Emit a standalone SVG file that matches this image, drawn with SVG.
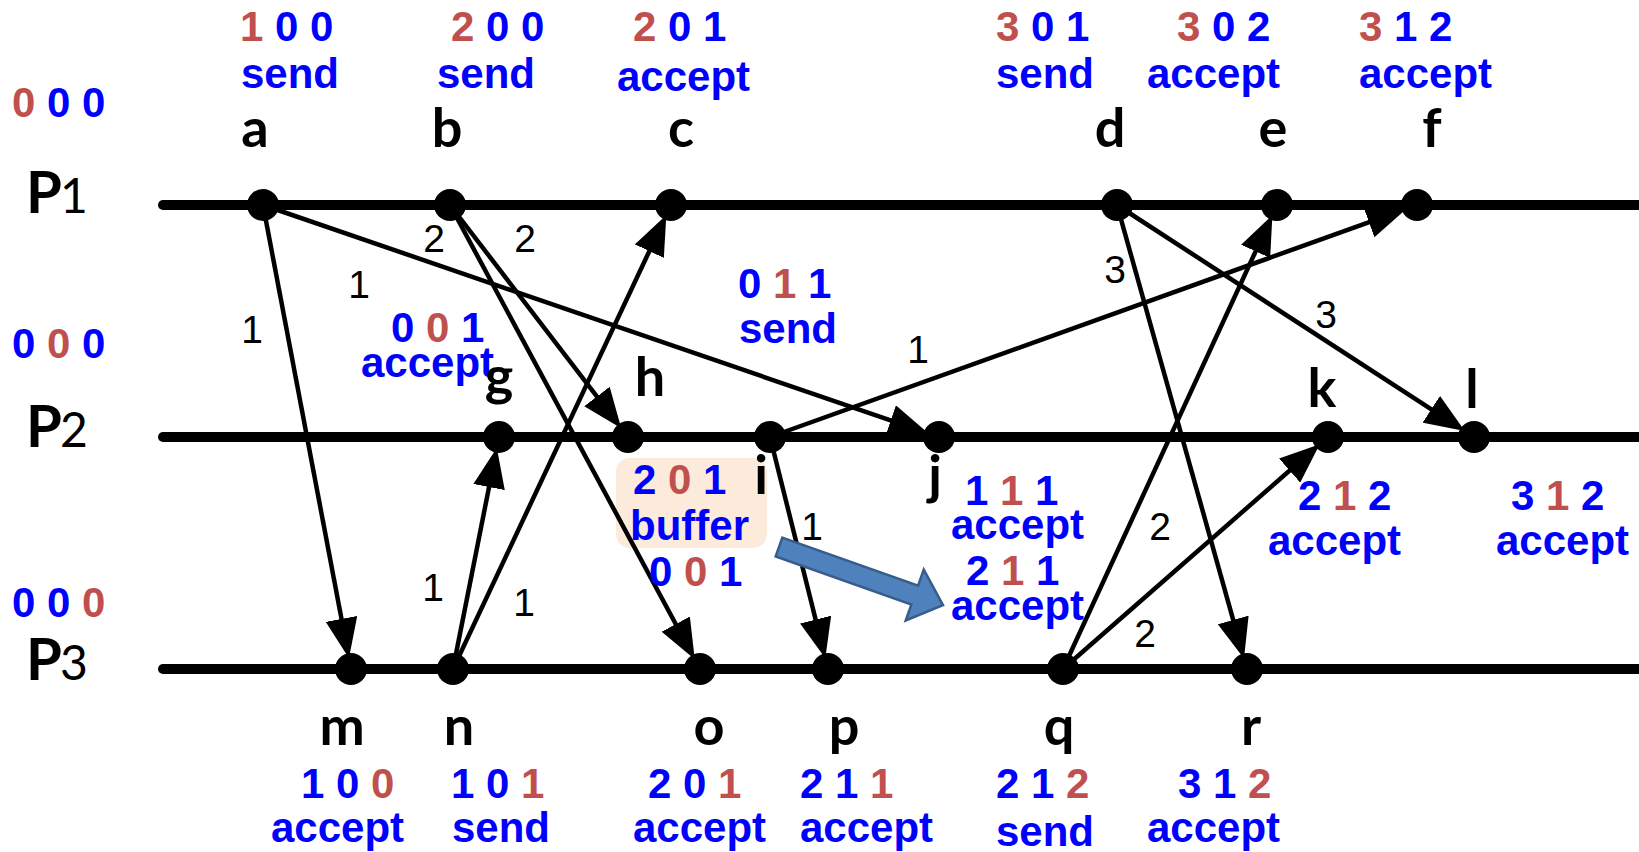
<svg xmlns="http://www.w3.org/2000/svg" width="1639" height="852" viewBox="0 0 1639 852">
<style>
.v{font-family:"Liberation Sans",Arial,sans-serif;font-weight:bold;font-size:42px;fill:#0000FF}
.r{fill:#C0504D}
.n{font-family:Lato,"Liberation Sans",sans-serif;font-weight:bold;font-size:54px;fill:#000;text-anchor:middle}
.e{font-family:"Liberation Sans",Arial,sans-serif;font-size:39px;fill:#000;text-anchor:middle}
.p{font-family:Lato,"Liberation Sans",sans-serif;font-weight:bold;font-size:58px;fill:#000}
.ps{font-weight:normal;font-size:48px}
.tl{stroke:#000;stroke-width:10;stroke-linecap:round;fill:none}
.c{stroke:#000;stroke-width:4.5;fill:none;marker-end:url(#ah)}
.dot{fill:#000}
</style>
<defs>
<marker id="ah" markerUnits="userSpaceOnUse" viewBox="0 -16 40 32" refX="30" refY="0" markerWidth="40" markerHeight="32" orient="auto">
<path d="M0,-16 L40,0 L0,16 z" fill="#000"/>
</marker>
</defs>
<rect width="1639" height="852" fill="#fff"/>

<g id="P1">
<line class="tl" x1="163" y1="205" x2="1645" y2="205"/>
<text class="p" x="26" y="213">P<tspan class="ps" x="60">1</tspan></text>
<text class="v" x="12" y="117"><tspan class="r">0</tspan> 0 0</text>
</g>
<g id="P2">
<line class="tl" x1="163" y1="437" x2="1645" y2="437"/>
<text class="p" x="26" y="447">P<tspan class="ps" x="60">2</tspan></text>
<text class="v" x="12" y="358">0 <tspan class="r">0</tspan> 0</text>
</g>
<g id="P3">
<line class="tl" x1="163" y1="669" x2="1645" y2="669"/>
<text class="p" x="26" y="680">P<tspan class="ps" x="60">3</tspan></text>
<text class="v" x="12" y="617">0 0 <tspan class="r">0</tspan></text>
</g>

<g id="buffer">
<rect x="616" y="458" width="151" height="90" rx="14" fill="#FCEADB"/>
</g>

<g id="connectors">
<line class="c" x1="263" y1="205" x2="347.1" y2="648.4"/>
<line class="c" x1="263" y1="205" x2="919.1" y2="430.2"/>
<line class="c" x1="450" y1="205" x2="615.2" y2="420.3"/>
<line class="c" x1="450" y1="205" x2="690" y2="650.5"/>
<line class="c" x1="453" y1="669" x2="494.9" y2="457.6"/>
<line class="c" x1="453" y1="669" x2="662.1" y2="224"/>
<line class="c" x1="770" y1="437" x2="1397.2" y2="212.1"/>
<line class="c" x1="770" y1="437" x2="822.9" y2="648.6"/>
<line class="c" x1="1117" y1="205" x2="1241.3" y2="648.8"/>
<line class="c" x1="1117" y1="205" x2="1456.4" y2="425.6"/>
<line class="c" x1="1063" y1="669" x2="1268.2" y2="224.1"/>
<line class="c" x1="1063" y1="669" x2="1312.2" y2="450.8"/>
<g id="edge-labels">
<text class="e" x="252" y="343">1</text>
<text class="e" x="359" y="298">1</text>
<text class="e" x="434" y="252">2</text>
<text class="e" x="525" y="252">2</text>
<text class="e" x="433" y="601">1</text>
<text class="e" x="524" y="616">1</text>
<text class="e" x="918" y="363">1</text>
<text class="e" x="812" y="540">1</text>
<text class="e" x="1115" y="283">3</text>
<text class="e" x="1326" y="328">3</text>
<text class="e" x="1160" y="540">2</text>
<text class="e" x="1145" y="647">2</text>
</g>
<polygon id="buffer-arrow" transform="translate(779,547) rotate(19.5)" points="0,-10 144,-10 144,-27 174,0 144,27 144,10 0,10" fill="#4F81BD" stroke="#385D8A" stroke-width="2.5" stroke-linejoin="miter"/>
</g>

<g id="node-a"><circle class="dot" cx="263" cy="205" r="16"/><text class="n" x="255" y="147">a</text>
<text class="v" x="240" y="41"><tspan class="r">1</tspan> 0 0</text><text class="v" x="241" y="88">send</text></g>
<g id="node-b"><circle class="dot" cx="450" cy="205" r="16"/><text class="n" x="447" y="147">b</text>
<text class="v" x="451" y="41"><tspan class="r">2</tspan> 0 0</text><text class="v" x="437" y="88">send</text></g>
<g id="node-c"><circle class="dot" cx="671" cy="205" r="16"/><text class="n" x="681" y="147">c</text>
<text class="v" x="633" y="41"><tspan class="r">2</tspan> 0 1</text><text class="v" x="617" y="91">accept</text></g>
<g id="node-d"><circle class="dot" cx="1117" cy="205" r="16"/><text class="n" x="1110" y="147">d</text>
<text class="v" x="996" y="41"><tspan class="r">3</tspan> 0 1</text><text class="v" x="996" y="88">send</text></g>
<g id="node-e"><circle class="dot" cx="1277" cy="205" r="16"/><text class="n" x="1273" y="147">e</text>
<text class="v" x="1177" y="41"><tspan class="r">3</tspan> 0 2</text><text class="v" x="1147" y="88">accept</text></g>
<g id="node-f"><circle class="dot" cx="1417" cy="205" r="16"/><text class="n" x="1432" y="147">f</text>
<text class="v" x="1359" y="41"><tspan class="r">3</tspan> 1 2</text><text class="v" x="1359" y="88">accept</text></g>

<g id="node-g"><circle class="dot" cx="499" cy="437" r="16"/>
<text class="v" x="391" y="342">0 <tspan class="r">0</tspan> 1</text><text class="v" x="361" y="377">accept</text>
<text class="n" x="499" y="395">g</text></g>
<g id="node-h"><circle class="dot" cx="628" cy="437" r="16"/><text class="n" x="650" y="396">h</text>
<text class="v" x="633" y="494">2 <tspan class="r">0</tspan> 1</text><text class="v" x="630" y="540">buffer</text>
<text class="v" x="649" y="586">0 <tspan class="r">0</tspan> 1</text></g>
<g id="node-i"><circle class="dot" cx="770" cy="437" r="16"/><text class="n" x="761" y="494">i</text>
<text class="v" x="738" y="298">0 <tspan class="r">1</tspan> 1</text><text class="v" x="739" y="343">send</text></g>
<g id="node-j"><circle class="dot" cx="939" cy="437" r="16"/><text class="n" x="935" y="494">j</text>
<text class="v" x="965" y="505">1 <tspan class="r">1</tspan> 1</text><text class="v" x="951" y="539">accept</text>
<text class="v" x="966" y="585">2 <tspan class="r">1</tspan> 1</text><text class="v" x="951" y="620">accept</text></g>
<g id="node-k"><circle class="dot" cx="1328" cy="437" r="16"/><text class="n" x="1322" y="407">k</text>
<text class="v" x="1298" y="510">2 <tspan class="r">1</tspan> 2</text><text class="v" x="1268" y="555">accept</text></g>
<g id="node-l"><circle class="dot" cx="1474" cy="437" r="16"/><text class="n" x="1472" y="408">l</text>
<text class="v" x="1511" y="510">3 <tspan class="r">1</tspan> 2</text><text class="v" x="1496" y="555">accept</text></g>

<g id="node-m"><circle class="dot" cx="351" cy="669" r="16"/><text class="n" x="342" y="745">m</text>
<text class="v" x="301" y="798">1 0 <tspan class="r">0</tspan></text><text class="v" x="271" y="842">accept</text></g>
<g id="node-n"><circle class="dot" cx="453" cy="669" r="16"/><text class="n" x="459" y="745">n</text>
<text class="v" x="451" y="798">1 0 <tspan class="r">1</tspan></text><text class="v" x="452" y="842">send</text></g>
<g id="node-o"><circle class="dot" cx="700" cy="669" r="16"/><text class="n" x="709" y="745">o</text>
<text class="v" x="648" y="798">2 0 <tspan class="r">1</tspan></text><text class="v" x="633" y="842">accept</text></g>
<g id="node-p"><circle class="dot" cx="828" cy="669" r="16"/><text class="n" x="844" y="745">p</text>
<text class="v" x="800" y="798">2 1 <tspan class="r">1</tspan></text><text class="v" x="800" y="842">accept</text></g>
<g id="node-q"><circle class="dot" cx="1063" cy="669" r="16"/><text class="n" x="1059" y="745">q</text>
<text class="v" x="996" y="798">2 1 <tspan class="r">2</tspan></text><text class="v" x="996" y="846">send</text></g>
<g id="node-r"><circle class="dot" cx="1247" cy="669" r="16"/><text class="n" x="1251" y="745">r</text>
<text class="v" x="1178" y="798">3 1 <tspan class="r">2</tspan></text><text class="v" x="1147" y="842">accept</text></g>
</svg>
